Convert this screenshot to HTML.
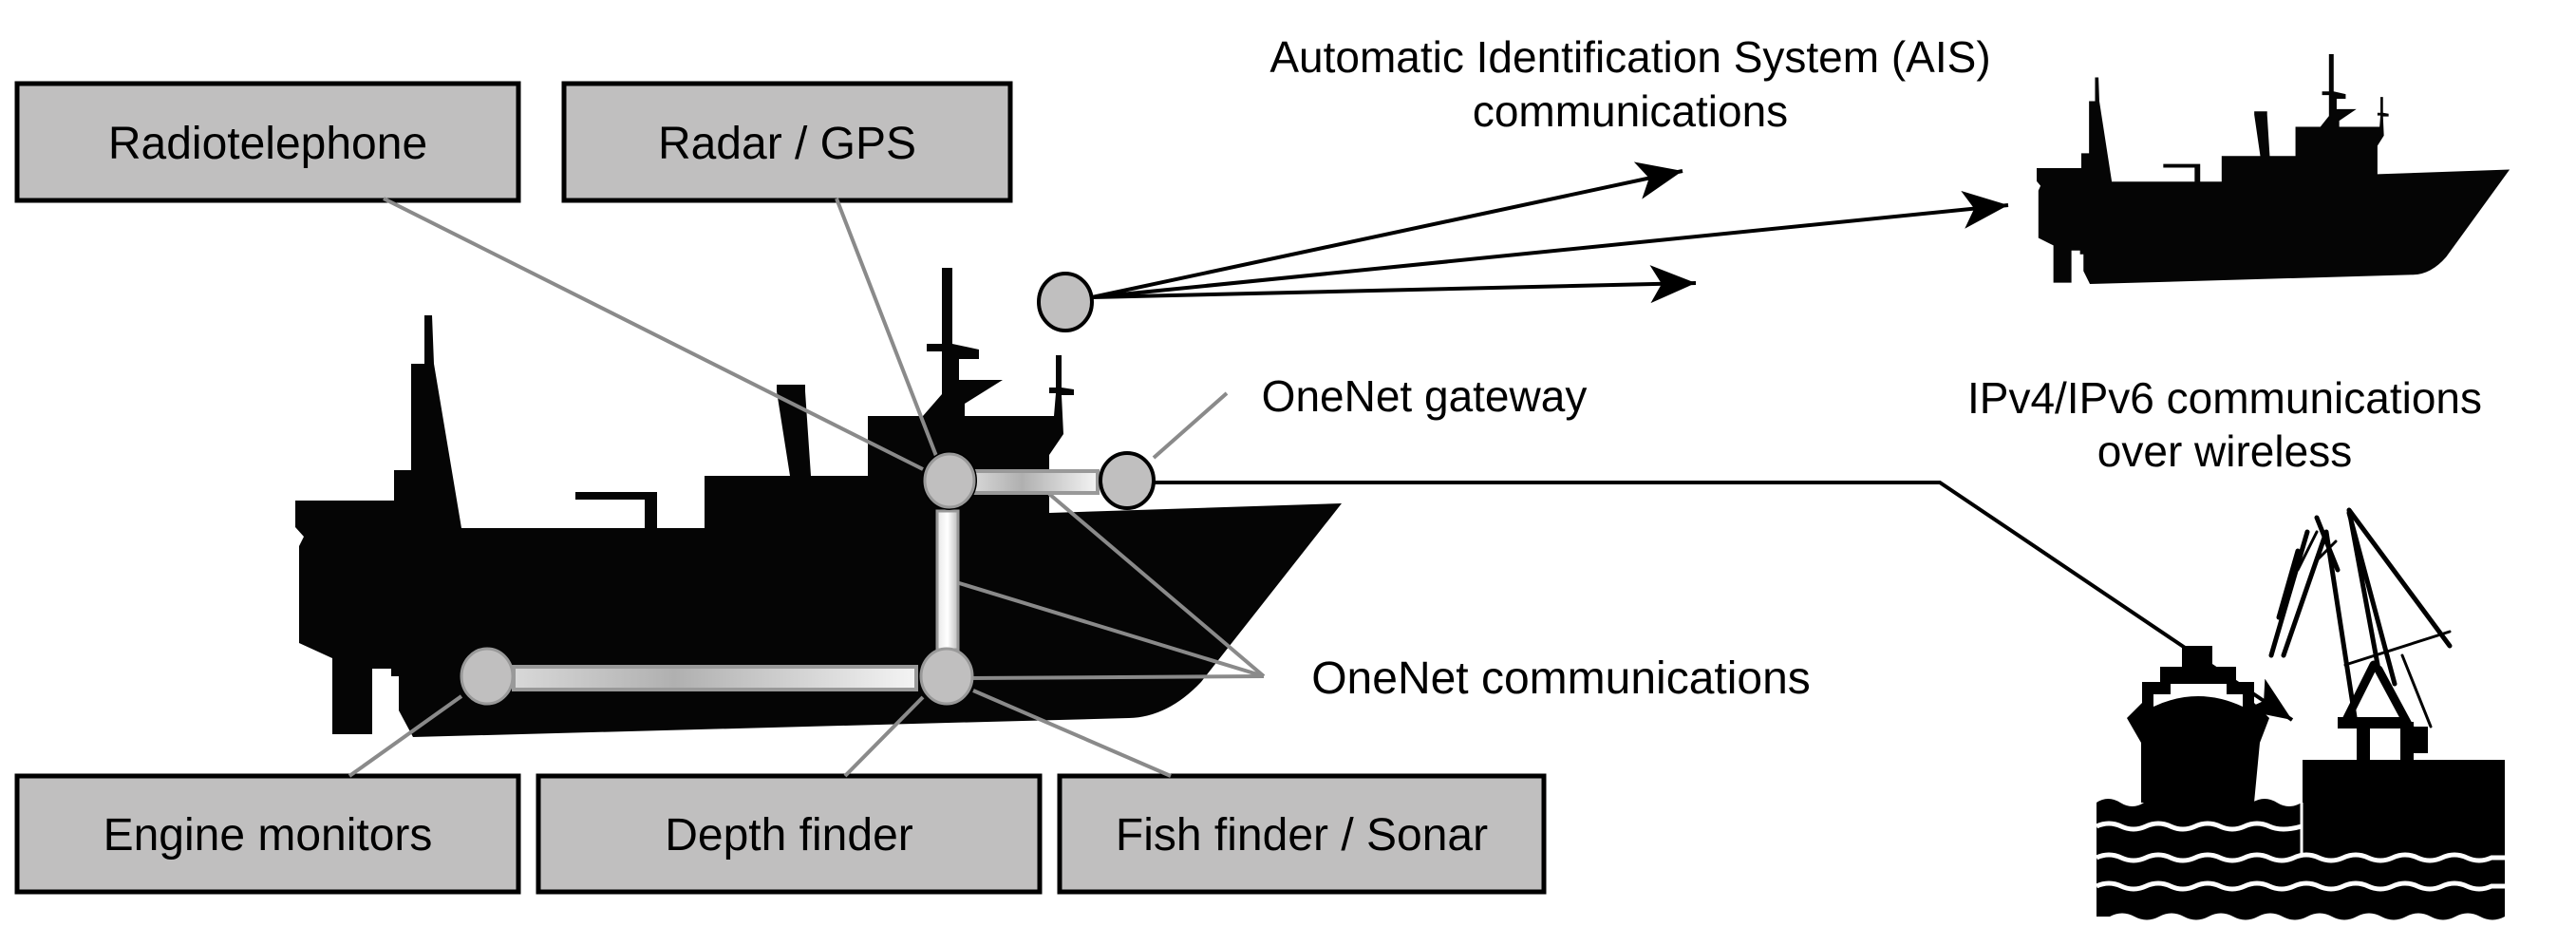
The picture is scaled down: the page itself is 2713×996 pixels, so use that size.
<!DOCTYPE html>
<html><head><meta charset="utf-8"><style>
html,body{margin:0;padding:0;background:#fff;}
svg{display:block;}
text{font-family:"Liberation Sans",Arial,sans-serif;fill:#000;}
</style></head><body>
<svg width="2713" height="996" viewBox="0 0 2713 996" xmlns="http://www.w3.org/2000/svg">
<defs>
<marker id="ah" markerUnits="userSpaceOnUse" markerWidth="60" markerHeight="50" refX="48" refY="20" orient="auto">
<path d="M0,0 L48,20 L0,40 L12,20 Z" fill="#000"/>
</marker>
<linearGradient id="gh" x1="0" y1="0" x2="1" y2="0">
<stop offset="0" stop-color="#d8d8d8"/><stop offset="0.4" stop-color="#b0b0b0"/><stop offset="1" stop-color="#f4f4f4"/>
</linearGradient>
<linearGradient id="gv" x1="0" y1="0" x2="1" y2="0">
<stop offset="0" stop-color="#e8e8e8"/><stop offset="0.5" stop-color="#ffffff"/><stop offset="1" stop-color="#bdbdbd"/>
</linearGradient>
<g id="ship">
<path fill="#050505" d="M311,527 L415,527 L415,495 L433,495 L433,383 L447,383 L447,332 L455,332 L457,383 L486,556 L679,556 L679,526 L606,526 L606,518 L692,518 L692,556 L742,556 L742,501 L832,501 L818,412 L818,405 L848,405 L848,412 L854,501 L914,501 L914,438 L972,438 L992,415 L992,370 L976,370 L976,362 L992,362 L992,282 L1003,282 L1003,362 L1031,368 L1031,378 L1010,378 L1010,400 L1056,400 L1016,425 L1016,438 L1110,438 L1112,414 L1105,414 L1105,408 L1112,408 L1112,374 L1118,374 L1118,408 L1131,410 L1131,416 L1118,416 L1120,457 L1105,479 L1105,540 L1413,530 L1265,718 Q1230,755 1189,756 L435,776 L420,748 L420,712 L412,712 L412,704 L392,704 L392,773 L350,773 L350,693 L315,677 L315,575 L320,565 L311,555 Z"/>
</g>
</defs>

<use href="#ship"/>
<use href="#ship" transform="translate(2145,57) scale(0.452,0.49) translate(-311,-282)"/>

<g fill="#c0bfbf" stroke="#000" stroke-width="5">
<rect x="18" y="88" width="528" height="123"/>
<rect x="594" y="88" width="470" height="123"/>
<rect x="18" y="817" width="528" height="122"/>
<rect x="567" y="817" width="528" height="122"/>
<rect x="1116" y="817" width="510" height="122"/>
</g>
<g font-size="48" text-anchor="middle">
<text x="282" y="167">Radiotelephone</text>
<text x="829" y="167">Radar / GPS</text>
<text x="282" y="895">Engine monitors</text>
<text x="831" y="895">Depth finder</text>
<text x="1371" y="895">Fish finder / Sonar</text>
</g>

<g stroke="#8a8a8a" stroke-width="4" fill="none">
<line x1="404" y1="209" x2="972" y2="494"/>
<line x1="881" y1="209" x2="986" y2="480"/>
<line x1="1292" y1="414" x2="1215" y2="482"/>
<line x1="1331" y1="712" x2="1105" y2="520"/>
<line x1="1331" y1="712" x2="1007" y2="613"/>
<line x1="1331" y1="712" x2="1020" y2="714"/>
<line x1="486" y1="733" x2="368" y2="817"/>
<line x1="972" y1="734" x2="890" y2="817"/>
<line x1="1025" y1="727" x2="1233" y2="817"/>
</g>

<rect x="1023" y="496" width="133" height="23" fill="url(#gh)" stroke="#999" stroke-width="4"/>
<rect x="541" y="702" width="424" height="24" fill="url(#gh)" stroke="#999" stroke-width="4"/>
<rect x="987" y="538" width="22" height="146" fill="url(#gv)" stroke="#999" stroke-width="3"/>

<g stroke="#000" stroke-width="4" fill="none" marker-end="url(#ah)">
<line x1="1150" y1="313" x2="1772" y2="180"/>
<line x1="1150" y1="313" x2="2115" y2="216"/>
<line x1="1150" y1="313" x2="1786" y2="298"/>
<polyline points="1215,508 2043,508 2414,758"/>
</g>

<g fill="#c0bfbf" stroke="#000" stroke-width="4">
<ellipse cx="1122" cy="318" rx="28" ry="30"/>
<ellipse cx="1000" cy="506" rx="27" ry="29"/>
<ellipse cx="1187" cy="506" rx="28" ry="29"/>
</g>
<g fill="#c0bfbf" stroke="#999" stroke-width="3">
<ellipse cx="1000" cy="506" rx="26" ry="28"/>
<ellipse cx="513" cy="712" rx="27" ry="29"/>
<ellipse cx="997" cy="712" rx="27" ry="29"/>
</g>

<g font-size="46" text-anchor="middle">
<text x="1717" y="76">Automatic Identification System (AIS)</text>
<text x="1717" y="133">communications</text>
<text x="1500" y="433">OneNet gateway</text>
<text x="2343" y="435">IPv4/IPv6 communications</text>
<text x="2343" y="491">over wireless</text>
</g>
<text x="1644" y="730" font-size="48" text-anchor="middle">OneNet communications</text>

<g>
<g stroke="#000" fill="none" stroke-linecap="round">
<path d="M2474,537 L2505,705 M2474,537 L2580,680 M2450,560 L2480,755 M2430,560 L2392,690 M2450,560 L2405,690 M2420,580 L2400,650 M2474,540 L2522,720 M2440,545 L2462,600" stroke-width="5"/>
<path d="M2440,590 L2460,570 M2470,700 L2580,665 M2530,690 L2560,765 M2420,600 L2440,560" stroke-width="3"/>
<path d="M2500,700 L2470,760 M2505,705 L2540,770" stroke-width="9"/>
</g>
<rect x="2462" y="755" width="75" height="12" fill="#000"/>
<rect x="2482" y="760" width="14" height="45" fill="#000"/>
<rect x="2528" y="760" width="14" height="45" fill="#000"/>
<rect x="2535" y="765" width="22" height="28" fill="#000"/>
<rect x="2425" y="800" width="213" height="102" fill="#000"/>
<path fill="#000" d="M2298,680 L2330,680 L2330,702 L2355,702 L2355,718 L2374,718 L2374,740 L2390,756 L2380,782 L2374,845 L2255,845 L2255,782 L2240,756 L2256,740 L2256,718 L2275,718 L2275,702 L2298,702 Z"/>
<path fill="#fff" d="M2286,720 L2345,720 L2345,731 L2362,731 L2362,744 Q2315,722 2268,744 L2268,731 L2286,731 Z"/>
<path fill="#000" d="M2208,845 Q2220,837 2233,845 T2258,845 L2372,845 Q2385,837 2398,845 T2424,845 L2424,900 L2638,900 L2638,965 Q2625,972 2612,965 T2586,965 T2560,965 T2534,965 T2508,965 T2482,965 T2456,965 T2430,965 T2404,965 T2378,965 T2352,965 T2326,965 T2300,965 T2274,965 T2248,965 T2222,965 L2208,965 Z"/>
<g stroke="#fff" stroke-width="5" fill="none">
<path d="M2208,870 Q2221,864 2234,870 T2260,870 T2286,870 T2312,870 T2338,870 T2364,870 T2390,870 T2424,870"/>
<path d="M2208,903 Q2221,897 2234,903 T2260,903 T2286,903 T2312,903 T2338,903 T2364,903 T2390,903 T2416,903 T2442,903 T2468,903 T2494,903 T2520,903 T2546,903 T2572,903 T2598,903 T2624,903 L2640,903"/>
<path d="M2208,933 Q2221,927 2234,933 T2260,933 T2286,933 T2312,933 T2338,933 T2364,933 T2390,933 T2416,933 T2442,933 T2468,933 T2494,933 T2520,933 T2546,933 T2572,933 T2598,933 T2624,933 L2640,933"/>
</g>
<line x1="2424" y1="845" x2="2424" y2="902" stroke="#fff" stroke-width="3"/>
</g>
</svg>
</body></html>
